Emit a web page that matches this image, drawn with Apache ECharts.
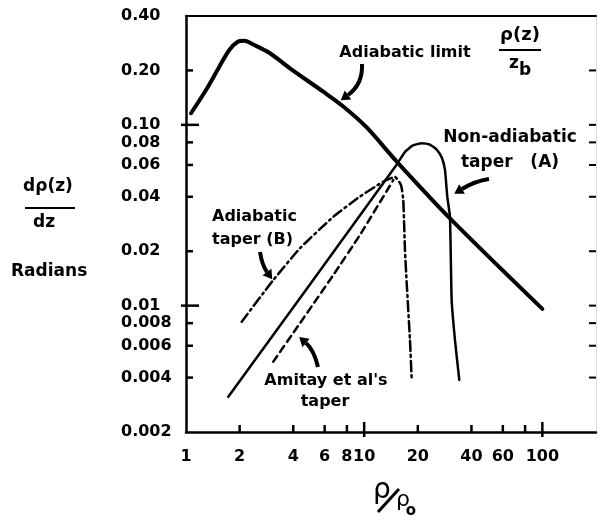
<!DOCTYPE html>
<html>
<head>
<meta charset="utf-8">
<title>Taper slopes</title>
<script src="https://cdn.jsdelivr.net/npm/echarts@6/dist/echarts.min.js"></script>
<style>
body{margin:0;padding:0;background:#fff;}
#chart{width:598px;height:524px;}
</style>
</head>
<body>
<div id="chart"></div>
<script>
// values: x = rho/rho0, y = d rho(z)/dz (radians)
var adiabaticLimit = [[1.067,0.1159],[1.295,0.1558],[1.538,0.2097],[1.75,0.2594],[1.951,0.2884],[2.124,0.292],[2.417,0.2764],[2.961,0.2489],[3.833,0.2054],[5.895,0.1525],[7.634,0.1263],[10.33,0.0967],[15.22,0.0627],[30.3,0.0304],[100,0.0096]];
var taperA = [[1.727,0.00313],[14.89,0.0584],[16.94,0.0708],[18.78,0.0769],[21.02,0.0791],[23.39,0.0778],[25.62,0.0726],[27.33,0.0656],[28.41,0.0563],[29.27,0.04],[30.3,0.031],[30.97,0.01074],[32.32,0.00646],[34.18,0.00388]];
var taperB = [[2.054,0.00815],[3.09,0.01386],[4.36,0.02076],[6.71,0.031],[9.47,0.0401],[12.8,0.0485],[14.89,0.0515],[16.09,0.0465],[16.57,0.0384],[16.94,0.0203],[17.32,0.01334],[18.07,0.00646],[18.48,0.00388]];
var amitay = [[3.09,0.0049],[4.36,0.00799],[6.71,0.01477],[9.47,0.0246],[14.57,0.0495]];

var xTicks = [2,4,6,8,10,20,40,60,80,100];
var xBigTicks = [10,100];
var xLabelVals = [1,2,4,6,8,10,20,40,60,100];
var xLabels = ['1','2','4','6','8','10','20','40','60','100'];
var yTicks = [0.2,0.1,0.08,0.06,0.04,0.02,0.01,0.008,0.006,0.004];
var yBigTicks = [0.1,0.01];
var yLabelVals = [0.4,0.2,0.1,0.08,0.06,0.04,0.02,0.01,0.008,0.006,0.004,0.002];
var yLabels = ['0.40','0.20','0.10','0.08','0.06','0.04','0.02','0.01','0.008','0.006','0.004','0.002'];

var X0 = 1, X1 = 200, Y0 = 0.002, Y1 = 0.4;
var FONT = 'bold 16px "DejaVu Sans"';

var myChart = echarts.init(document.getElementById('chart'));

function tickSeries(data, draw) {
  return {
    type: 'custom', silent: true, clip: false, z: 5,
    data: data,
    renderItem: function (params, api) {
      var p = api.coord([api.value(0), api.value(1)]);
      return draw(p, api.value(0), api.value(1), params.dataIndex);
    }
  };
}

function ln(x1, y1, x2, y2, w) {
  return {type: 'line', shape: {x1: x1, y1: y1, x2: x2, y2: y2}, style: {stroke: '#000', lineWidth: w || 2.5}};
}

function txt(x, y, s, align, font) {
  return {type: 'text', x: x, y: y, style: {text: s, fill: '#000', font: font || FONT, align: align || 'center', verticalAlign: 'middle'}};
}

// curved arrow: quadratic curve + filled head
function arrow(x0, y0, cx, cy, x1, y1) {
  var dx = x1 - cx, dy = y1 - cy, d = Math.sqrt(dx * dx + dy * dy);
  dx /= d; dy /= d;
  var tip = [x1 + dx * 9, y1 + dy * 9];
  return [
    {type: 'bezierCurve', shape: {x1: x0, y1: y0, cpx1: cx, cpy1: cy, x2: x1, y2: y1}, style: {stroke: '#000', lineWidth: 4, fill: null}},
    {type: 'polygon', shape: {points: [tip, [x1 - dy * 5.5, y1 + dx * 5.5], [x1 + dy * 5.5, y1 - dx * 5.5]]}, style: {fill: '#000'}}
  ];
}

function curve(name, data, width, dash, smooth) {
  return {
    name: name, type: 'line', data: data, showSymbol: false, symbol: 'none', smooth: smooth || 0.15,
    silent: true, animation: false,
    lineStyle: {color: '#000', width: width, type: dash || 'solid', cap: 'round', join: 'round'}
  };
}

function logAxis(pos, min, max, color, width) {
  return {
    type: 'log', logBase: 10, min: min, max: max, position: pos,
    axisLine: {show: true, onZero: false, lineStyle: {color: color, width: width}},
    axisTick: {show: false}, axisLabel: {show: false},
    splitLine: {show: false}, minorTick: {show: false}
  };
}

var graphics = [
  txt(405, 53, 'Adiabatic limit'),
  txt(510, 138, 'Non-adiabatic', 'center', 'bold 17px "DejaVu Sans"'),
  txt(510, 163, 'taper   (A)', 'center', 'bold 17px "DejaVu Sans"'),
  txt(212, 217, 'Adiabatic', 'left'),
  txt(212, 240, 'taper (B)', 'left'),
  txt(326, 381, "Amitay et al's"),
  txt(325, 402, 'taper'),
  txt(48, 187, 'd\u03c1(z)', 'center', 'bold 17px "DejaVu Sans"'),
  {type: 'line', shape: {x1: 25, y1: 208, x2: 75, y2: 208}, style: {stroke: '#000', lineWidth: 2}},
  txt(44, 223, 'dz', 'center', 'bold 17px "DejaVu Sans"'),
  txt(11, 272, 'Radians', 'left', 'bold 17px "DejaVu Sans"'),
  txt(520, 35, '\u03c1(z)', 'center', 'bold 18px "DejaVu Sans"'),
  {type: 'line', shape: {x1: 499, y1: 50, x2: 541, y2: 50}, style: {stroke: '#000', lineWidth: 2}},
  txt(514, 64, 'z', 'center', 'bold 17px "DejaVu Sans"'),
  txt(525, 71, 'b', 'center', 'bold 17px "DejaVu Sans"'),
  txt(382, 491, '\u03c1', 'center', '28px "DejaVu Sans"'),
  {type: 'line', shape: {x1: 378, y1: 512, x2: 399, y2: 489}, style: {stroke: '#000', lineWidth: 3}},
  txt(403, 500, '\u03c1', 'center', '22px "DejaVu Sans"'),
  txt(411, 511, 'o', 'center', 'bold 15px "DejaVu Sans"')
];
graphics = graphics
  .concat(arrow(362, 64, 363, 84, 348, 95))
  .concat(arrow(489, 179, 475, 181, 462, 189))
  .concat(arrow(260, 252, 262, 265, 267, 272))
  .concat(arrow(318, 367, 314, 350, 306, 343));

myChart.setOption({
  animation: false,
  backgroundColor: '#fff',
  grid: {left: 186, right: 2, top: 16, bottom: 92, containLabel: false},
  xAxis: [logAxis('bottom', X0, X1, '#000', 2.5), logAxis('top', X0, X1, '#000', 2)],
  yAxis: [logAxis('left', Y0, Y1, '#000', 2.5), logAxis('right', Y0, Y1, '#e0e0e0', 1)],
  graphic: graphics,
  series: [
    curve('Adiabatic limit', adiabaticLimit, 4, 'solid', 0.3),
    curve('Non-adiabatic taper (A)', taperA, 2.5),
    curve('Adiabatic taper (B)', taperB, 2.5, [10, 4, 2, 4]),
    curve("Amitay et al's taper", amitay, 2.5, [7, 5]),
    // left ticks
    tickSeries(yTicks.map(function (v) { return [X0, v]; }), function (p, x, y) {
      var big = yBigTicks.indexOf(y) >= 0;
      return ln(p[0] - (big ? 5 : 0), p[1], p[0] + (big ? 13 : 7), p[1]);
    }),
    // right ticks
    tickSeries(yTicks.map(function (v) { return [X1, v]; }), function (p) {
      return ln(p[0] - 7, p[1], p[0], p[1], 2);
    }),
    // bottom ticks
    tickSeries(xTicks.map(function (v) { return [v, Y0]; }), function (p, x) {
      var big = xBigTicks.indexOf(x) >= 0;
      return ln(p[0], p[1] + (big ? 5 : 0), p[0], p[1] - (big ? 10 : 7));
    }),
    // y labels
    tickSeries(yLabelVals.map(function (v) { return [X0, v]; }), function (p, x, y, i) {
      return txt(p[0] - 65, p[1], yLabels[i], 'left');
    }),
    // x labels
    tickSeries(xLabelVals.map(function (v) { return [v, Y0]; }), function (p, x, y, i) {
      return txt(p[0], p[1] + 25, xLabels[i], 'center');
    })
  ]
});
</script>
</body>
</html>
